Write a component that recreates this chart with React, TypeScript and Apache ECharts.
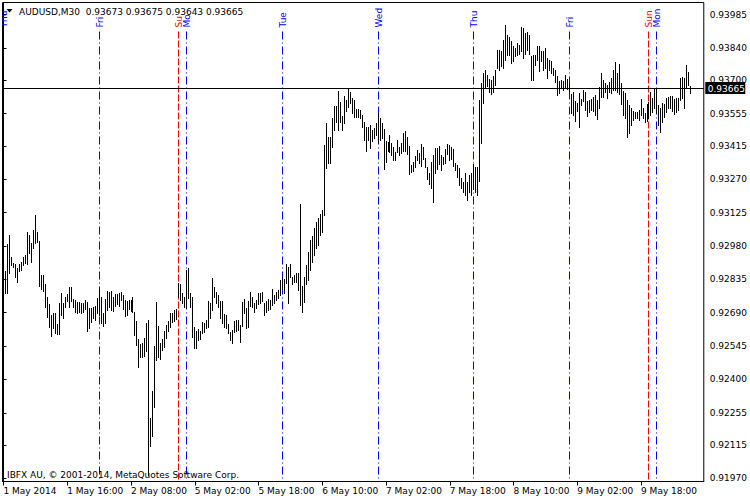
import React, { useEffect, useRef } from "react";
import * as echarts from "echarts";

// ---- data (prices in points, 1 point = 0.00001) ----
const SYMBOL = "AUDUSD,M30";
const LAST_OPEN = 0.93673;
const LAST_HIGH = 0.93675;
const LAST_LOW = 0.93643;
const LAST_CLOSE = 0.93665;
const COPYRIGHT = "IBFX AU, \u00a9 2001-2014, MetaQuotes Software Corp.";

const highs = [
  92907, 92871, 92989, 93028, 92933, 92907, 92902, 92884, 92902, 92910,
  92933, 92941, 93041, 93028, 92993, 93049, 93115, 93042, 93002, 92854,
  92854, 92815, 92760, 92728, 92680, 92690, 92689, 92641, 92734, 92777,
  92732, 92760, 92771, 92803, 92803, 92750, 92745, 92738, 92738, 92734,
  92732, 92745, 92738, 92710, 92710, 92715, 92720, 92754, 92793, 92758,
  92689, 92750, 92786, 92781, 92786, 92760, 92771, 92771, 92777, 92781,
  92767, 92745, 92742, 92745, 92745, 92757, 92694, 92655, 92574, 92554,
  92560, 92581, 92644, 92658, 92231, 92351, 92545, 92738, 92632, 92560,
  92574, 92612, 92637, 92655, 92687, 92687, 92702, 92705, 92818, 92815,
  92777, 92760, 92876, 92883, 92776, 92758, 92629, 92610, 92619, 92612,
  92651, 92644, 92658, 92742, 92734, 92840, 92803, 92781, 92767, 92742,
  92742, 92684, 92680, 92641, 92607, 92615, 92655, 92658, 92658, 92637,
  92738, 92748, 92709, 92742, 92780, 92757, 92731, 92745, 92774, 92777,
  92781, 92734, 92742, 92748, 92745, 92792, 92767, 92781, 92789, 92832,
  92846, 92835, 92902, 92890, 92902, 92846, 92854, 92861, 92864, 93162,
  92806, 92846, 92897, 92955, 93006, 93023, 93058, 93084, 93102, 93119,
  93136, 93419, 93516, 93452, 93452, 93535, 93588, 93588, 93654, 93607,
  93545, 93632, 93614, 93664, 93651, 93622, 93614, 93574, 93574, 93571,
  93549, 93520, 93498, 93498, 93506, 93484, 93491, 93513, 93557, 93535,
  93513, 93487, 93438, 93433, 93462, 93426, 93409, 93390, 93441, 93409,
  93429, 93470, 93481, 93455, 93415, 93332, 93346, 93371, 93397, 93383,
  93423, 93409, 93361, 93322, 93296, 93346, 93375, 93405, 93405, 93415,
  93375, 93365, 93400, 93423, 93419, 93409, 93400, 93342, 93332, 93318,
  93274, 93259, 93296, 93259, 93288, 93296, 93336, 93325, 93325, 93614,
  93688, 93732, 93745, 93723, 93706, 93701, 93719, 93745, 93832, 93832,
  93826, 93877, 93939, 93898, 93887, 93870, 93848, 93840, 93862, 93855,
  93930, 93927, 93906, 93910, 93896, 93804, 93811, 93809, 93848, 93848,
  93826, 93829, 93840, 93797, 93790, 93783, 93754, 93746, 93717, 93698,
  93703, 93696, 93724, 93707, 93688, 93641, 93649, 93611, 93601, 93645,
  93620, 93659, 93649, 93609, 93614, 93619, 93627, 93636, 93614, 93670,
  93730, 93701, 93687, 93680, 93694, 93709, 93745, 93781, 93730, 93770,
  93687, 93654, 93644, 93614, 93593, 93578, 93567, 93564, 93564, 93571,
  93619, 93581, 93557, 93596, 93607, 93651, 93622, 93665, 93668, 93593,
  93578, 93600, 93596, 93622, 93629, 93633, 93633, 93619, 93622, 93624,
  93709, 93716, 93709, 93767, 93737, 93675,
];

const lows = [
  92806, 92777, 92776, 92864, 92897, 92890, 92846, 92825, 92872, 92876,
  92897, 92906, 92902, 92949, 92912, 92971, 92993, 92999, 92806, 92793,
  92786, 92715, 92673, 92629, 92589, 92624, 92602, 92597, 92597, 92680,
  92668, 92716, 92741, 92716, 92741, 92716, 92694, 92690, 92694, 92690,
  92694, 92706, 92612, 92624, 92651, 92667, 92658, 92689, 92680, 92645,
  92632, 92647, 92702, 92716, 92702, 92699, 92719, 92728, 92719, 92745,
  92706, 92677, 92680, 92706, 92699, 92694, 92593, 92550, 92455, 92496,
  92499, 92502, 92525, 91985, 92112, 92154, 92279, 92484, 92499, 92488,
  92528, 92542, 92579, 92612, 92629, 92651, 92655, 92661, 92760, 92745,
  92734, 92713, 92709, 92753, 92713, 92586, 92535, 92535, 92571, 92574,
  92600, 92607, 92622, 92629, 92668, 92702, 92760, 92734, 92716, 92666,
  92644, 92629, 92622, 92600, 92571, 92557, 92607, 92612, 92615, 92564,
  92632, 92687, 92622, 92629, 92719, 92716, 92694, 92709, 92728, 92734,
  92742, 92680, 92694, 92702, 92705, 92723, 92734, 92745, 92753, 92767,
  92792, 92777, 92818, 92734, 92844, 92815, 92825, 92825, 92789, 92723,
  92694, 92738, 92815, 92832, 92875, 92910, 92941, 92971, 92984, 93028,
  93041, 93115, 93318, 93339, 93342, 93409, 93484, 93520, 93484, 93520,
  93484, 93513, 93568, 93585, 93600, 93557, 93542, 93539, 93539, 93535,
  93498, 93441, 93394, 93441, 93405, 93438, 93448, 93462, 93433, 93441,
  93448, 93313, 93346, 93394, 93390, 93375, 93354, 93354, 93390, 93375,
  93385, 93394, 93394, 93380, 93293, 93303, 93307, 93325, 93354, 93339,
  93328, 93357, 93325, 93270, 93249, 93231, 93172, 93298, 93313, 93336,
  93310, 93336, 93339, 93380, 93354, 93357, 93328, 93310, 93279, 93245,
  93231, 93216, 93202, 93180, 93216, 93202, 93226, 93216, 93202, 93262,
  93428, 93601, 93667, 93675, 93649, 93641, 93649, 93680, 93754, 93745,
  93761, 93754, 93790, 93811, 93811, 93775, 93783, 93804, 93809, 93814,
  93826, 93797, 93814, 93833, 93814, 93703, 93703, 93765, 93790, 93742,
  93783, 93746, 93754, 93710, 93746, 93732, 93724, 93693, 93635, 93645,
  93667, 93659, 93667, 93664, 93652, 93558, 93551, 93522, 93565, 93496,
  93594, 93611, 93572, 93544, 93562, 93571, 93567, 93549, 93532, 93581,
  93629, 93629, 93651, 93622, 93651, 93644, 93658, 93658, 93651, 93639,
  93596, 93549, 93535, 93455, 93470, 93506, 93528, 93535, 93535, 93528,
  93549, 93535, 93520, 93523, 93535, 93549, 93564, 93578, 93557, 93506,
  93477, 93520, 93542, 93561, 93581, 93581, 93567, 93552, 93561, 93571,
  93614, 93624, 93578, 93672, 93680, 93643,
];

const timeTickBars = [0, 32, 64, 96, 128, 160, 192, 224, 256, 288, 320];
const timeTickLabels = [
  "1 May 2014", "1 May 16:00", "2 May 08:00", "5 May 02:00", "5 May 18:00",
  "6 May 10:00", "7 May 02:00", "7 May 18:00", "8 May 10:00", "9 May 02:00", "9 May 18:00",
];
const priceTicks = [
  0.93985, 0.9384, 0.937, 0.93555, 0.93415, 0.9327, 0.93125, 0.9298,
  0.92835, 0.9269, 0.92545, 0.924, 0.92255, 0.92115, 0.9197,
];
const separatorBars = [0, 48, 88, 92, 140, 188, 236, 284, 324, 328];
const separatorLabels = ["Thu", "Fri", "Su", "Mo", "Tue", "Wed", "Thu", "Fri", "Sun", "Mon"];

const Y_MIN = 0.919564;
const Y_MAX = 0.940381;
const FONT_FAMILY = '"DejaVu Sans", sans-serif';
const FONT = '9px "DejaVu Sans", sans-serif';

const crisp = (v: number) => Math.floor(v) + 0.5;

export default function App() {
  const ref = useRef<HTMLDivElement>(null);

  useEffect(() => {
    if (!ref.current) return;
    document.body.style.margin = "0";
    const chart = echarts.init(ref.current, undefined, { renderer: "svg" });

    const barData = highs.map((h, i) => [i, lows[i] / 1e5, h / 1e5]);
    const sepData = separatorBars.map((b) => [b]);
    const header = `${SYMBOL}  ${LAST_OPEN.toFixed(5)} ${LAST_HIGH.toFixed(5)} ${LAST_LOW.toFixed(5)} ${LAST_CLOSE.toFixed(5)}`;

    chart.setOption({
      animation: false,
      backgroundColor: "#fff",
      grid: {
        left: 2.5,
        top: 2.5,
        width: 704,
        height: 479,
        show: true,
        borderColor: "#000",
        borderWidth: 1,
        backgroundColor: "#fff",
        containLabel: false,
      },
      xAxis: {
        type: "value",
        min: -0.5,
        max: 351.5,
        splitLine: { show: false },
        axisLine: { show: true, lineStyle: { color: "#000", width: 1 } },
        axisTick: {
          show: true,
          customValues: timeTickBars,
          length: 4,
          lineStyle: { color: "#000" },
        },
        axisLabel: {
          show: true,
          customValues: timeTickBars,
          formatter: (v: number) => {
            const k = timeTickBars.indexOf(Math.round(v));
            return k >= 0 ? timeTickLabels[k] : "";
          },
          align: "left",
          margin: 5,
          color: "#000",
          fontSize: 9,
          fontFamily: FONT_FAMILY,
        },
      },
      yAxis: {
        type: "value",
        position: "right",
        min: Y_MIN,
        max: Y_MAX,
        scale: true,
        splitLine: { show: false },
        axisLine: { show: true, lineStyle: { color: "#000", width: 1 } },
        axisTick: {
          show: true,
          customValues: priceTicks,
          length: 3,
          lineStyle: { color: "#000" },
        },
        axisLabel: {
          show: true,
          customValues: priceTicks,
          formatter: (v: number) => v.toFixed(5),
          margin: 6,
          color: "#000",
          fontSize: 9,
          fontFamily: FONT_FAMILY,
        },
      },
      series: [
        {
          type: "custom",
          name: "separators",
          clip: true,
          data: sepData,
          encode: { x: 0 },
          renderItem: (params: any, api: any) => {
            const idx = params.dataIndex;
            const b = api.value(0);
            const p = api.coord([b, Y_MIN]);
            const cs = params.coordSys;
            const x = crisp(p[0]);
            const label = separatorLabels[idx];
            const isSun = label.indexOf("Su") === 0;
            const color = isSun ? "#ff0000" : "#0000ff";
            const children: any[] = [];
            if (b > 0) {
              children.push({
                type: "line",
                shape: { x1: x, y1: cs.y + 29, x2: x, y2: cs.y + cs.height },
                style: {
                  stroke: color,
                  lineWidth: 1,
                  lineDash: isSun ? [7, 2] : [8, 3, 1, 3],
                },
              });
            }
            children.push({
              type: "text",
              x: x,
              y: cs.y + 25,
              rotation: Math.PI / 2,
              style: {
                text: label,
                fill: color,
                font: FONT,
                align: "left",
                verticalAlign: "middle",
              },
            });
            return { type: "group", children };
          },
          z: 1,
        },
        {
          type: "custom",
          name: "bars",
          clip: true,
          data: barData,
          encode: { x: 0, y: [1, 2] },
          renderItem: (params: any, api: any) => {
            const i = api.value(0);
            const lo = api.coord([i, api.value(1)]);
            const hi = api.coord([i, api.value(2)]);
            const x = crisp(lo[0]);
            return {
              type: "line",
              shape: { x1: x, y1: Math.round(lo[1]) + 1, x2: x, y2: Math.round(hi[1]) },
              style: { stroke: "#000", lineWidth: 1, opacity: 1 },
            };
          },
          z: 2,
        },
        {
          type: "custom",
          name: "current price",
          clip: false,
          data: [[0, LAST_CLOSE]],
          encode: { y: 1 },
          renderItem: (params: any, api: any) => {
            const p = api.coord([0, api.value(1)]);
            const cs = params.coordSys;
            const y = crisp(p[1]);
            const right = cs.x + cs.width;
            return {
              type: "group",
              children: [
                {
                  type: "line",
                  shape: { x1: cs.x, y1: y, x2: right, y2: y },
                  style: { stroke: "#000", lineWidth: 1 },
                },
                {
                  type: "rect",
                  shape: { x: right + 1.5, y: y - 6.5, width: 40, height: 12 },
                  style: { fill: "#000" },
                },
                {
                  type: "text",
                  x: right + 4,
                  y: y,
                  style: {
                    text: api.value(1).toFixed(5),
                    fill: "#fff",
                    font: FONT,
                    align: "left",
                    verticalAlign: "middle",
                  },
                },
              ],
            };
          },
          z: 3,
        },
      ],
      graphic: [
        {
          type: "polygon",
          shape: { points: [[6.5, 9], [12.5, 9], [9.5, 12.5]] },
          style: { fill: "#000" },
          z: 10,
        },
        {
          type: "text",
          x: 19,
          y: 12,
          style: { text: header, fill: "#000", font: FONT, verticalAlign: "middle" },
          z: 10,
        },
        {
          type: "text",
          x: 7,
          y: 474.5,
          style: { text: COPYRIGHT, fill: "#000", font: FONT, verticalAlign: "middle" },
          z: 10,
        },
      ],
    });

    return () => chart.dispose();
  }, []);

  return (
    <div
      ref={ref}
      style={{ width: 750, height: 500, position: "fixed", left: 0, top: 0 }}
    />
  );
}
